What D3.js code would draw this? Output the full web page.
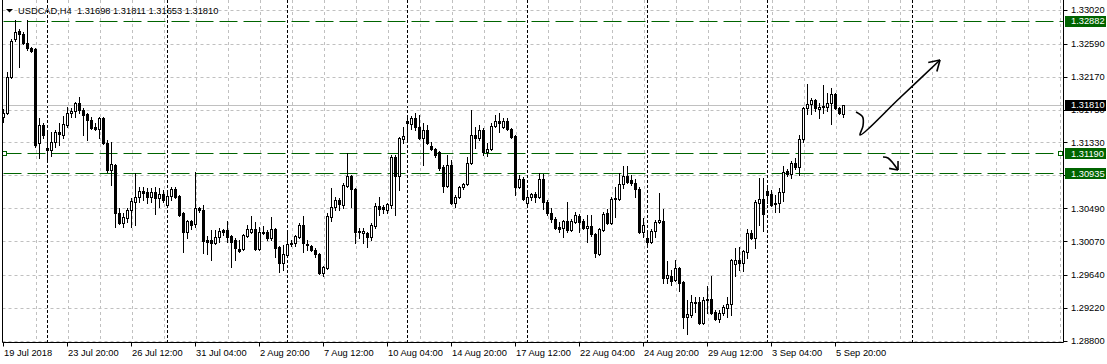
<!DOCTYPE html>
<html>
<head>
<meta charset="utf-8">
<script src="https://cdn.jsdelivr.net/npm/d3@7"></script>
<style>
  html, body { margin: 0; padding: 0; background: #fff; }
  svg { display: block; font-family: "Liberation Sans", Arial, sans-serif; font-size: 9.3px; }
</style>
</head>
<body>
<svg id="chart" width="1107" height="364"></svg>
<script>
// USDCAD H4, one bar per slot, first bar 19 Jul 2018 04:00
// [open, high, low, close]
var ohlc = [
  [1.31655,1.31757,1.31592,1.31706],[1.31706,1.32230,1.31693,1.32166],[1.32166,1.32650,1.32153,1.32625],[1.32650,1.32893,1.32625,1.32740],
  [1.32752,1.32778,1.32293,1.32714],[1.32714,1.32740,1.32587,1.32600],[1.32600,1.32893,1.32510,1.32536],[1.32536,1.32549,1.32485,1.32497],
  [1.32523,1.32536,1.31273,1.31298],[1.31324,1.31642,1.31132,1.31553],[1.31553,1.31579,1.31387,1.31425],
  // week of 23 Jul
  [1.31260,1.31451,1.31106,1.31234],[1.31234,1.31463,1.31157,1.31336],[1.31336,1.31489,1.31273,1.31463],[1.31463,1.31579,1.31298,1.31438],
  [1.31425,1.31667,1.31387,1.31566],[1.31553,1.31783,1.31528,1.31706],[1.31706,1.31770,1.31655,1.31731],[1.31731,1.31847,1.31655,1.31834],
  [1.31834,1.31911,1.31706,1.31744],[1.31744,1.31770,1.31425,1.31680],[1.31693,1.31706,1.31362,1.31617],[1.31617,1.31655,1.31502,1.31515],
  [1.31528,1.31579,1.31489,1.31502],[1.31502,1.31655,1.31387,1.31642],[1.31642,1.31655,1.31311,1.31324],[1.31324,1.31362,1.30953,1.30979],
  [1.30979,1.31336,1.30787,1.31055],[1.31042,1.31055,1.30252,1.30430],[1.30430,1.30494,1.30290,1.30303],[1.30303,1.30430,1.30252,1.30379],
  [1.30366,1.30494,1.30316,1.30468],[1.30468,1.30622,1.30252,1.30583],[1.30571,1.30941,1.30277,1.30635],[1.30635,1.30762,1.30571,1.30711],
  [1.30711,1.30762,1.30596,1.30686],[1.30699,1.30749,1.30558,1.30635],[1.30635,1.30749,1.30571,1.30699],[1.30699,1.30762,1.30417,1.30622],
  [1.30622,1.30749,1.30507,1.30673],[1.30673,1.30724,1.30571,1.30596],
  // week of 30 Jul
  [1.30532,1.30699,1.30507,1.30647],[1.30647,1.30762,1.30596,1.30736],[1.30736,1.30762,1.30622,1.30635],[1.30647,1.30660,1.30391,1.30404],
  [1.30430,1.30443,1.29933,1.30188],[1.30188,1.30341,1.30111,1.30328],[1.30328,1.30341,1.30226,1.30277],[1.30290,1.30953,1.30252,1.30494],
  [1.30494,1.30507,1.30443,1.30468],[1.30468,1.30532,1.29920,1.30073],[1.30086,1.30136,1.29907,1.30060],[1.30086,1.30213,1.29830,1.30048],
  [1.30048,1.30213,1.30035,1.30124],[1.30124,1.30239,1.30060,1.30200],[1.30213,1.30226,1.30149,1.30188],[1.30213,1.30328,1.30060,1.30124],
  [1.30136,1.30149,1.29741,1.30060],[1.30086,1.30111,1.29830,1.29984],[1.29971,1.30086,1.29933,1.29945],[1.29971,1.30162,1.29958,1.30149],
  [1.30136,1.30277,1.30124,1.30226],[1.30188,1.30391,1.30175,1.30226],[1.30226,1.30316,1.29958,1.29971],[1.29971,1.30252,1.29958,1.30188],
  [1.30188,1.30264,1.30162,1.30175],[1.30188,1.30213,1.30086,1.30111],[1.30111,1.30379,1.30086,1.30226],[1.30226,1.30239,1.29869,1.29984],
  [1.29997,1.30009,1.29678,1.29792],[1.29792,1.30022,1.29703,1.29907],
  // week of 6 Aug
  [1.29894,1.30213,1.29869,1.30035],[1.30035,1.30086,1.30009,1.30048],[1.30048,1.30149,1.30009,1.30136],[1.30124,1.30303,1.30111,1.30277],
  [1.30277,1.30391,1.29933,1.30048],[1.30035,1.30086,1.29958,1.30022],[1.30009,1.30022,1.29945,1.29958],[1.29958,1.29984,1.29869,1.29907],
  [1.29907,1.29920,1.29652,1.29665],[1.29665,1.29753,1.29626,1.29741],[1.29728,1.30430,1.29715,1.30391],[1.30379,1.30749,1.30328,1.30507],
  [1.30507,1.30635,1.30468,1.30596],[1.30596,1.30622,1.30468,1.30545],[1.30532,1.30813,1.30494,1.30787],[1.30774,1.31196,1.30762,1.30902],
  [1.30902,1.30915,1.30507,1.30736],[1.30736,1.30749,1.30048,1.30188],[1.30200,1.30239,1.30111,1.30188],[1.30175,1.30239,1.30048,1.30200],
  [1.30175,1.30188,1.29997,1.30124],[1.30124,1.30303,1.30086,1.30277],[1.30264,1.30558,1.30239,1.30519],[1.30519,1.30635,1.30404,1.30481],
  [1.30507,1.30532,1.30430,1.30481],[1.30468,1.30558,1.30430,1.30545],[1.30532,1.31170,1.30494,1.31145],[1.31145,1.31170,1.30404,1.30902],
  [1.30902,1.31400,1.30724,1.31387],[1.31374,1.31528,1.31324,1.31412],
  // week of 13 Aug
  [1.31604,1.31642,1.31362,1.31579],[1.31566,1.31667,1.31502,1.31642],[1.31642,1.31706,1.31489,1.31528],[1.31528,1.31680,1.31374,1.31387],
  [1.31387,1.31579,1.31042,1.31489],[1.31489,1.31553,1.31311,1.31324],[1.31285,1.31336,1.31234,1.31247],[1.31247,1.31260,1.31145,1.31170],
  [1.31208,1.31221,1.30979,1.31004],[1.31017,1.31042,1.30699,1.30774],[1.30774,1.31170,1.30762,1.31042],[1.31042,1.31106,1.30545,1.30558],
  [1.30558,1.30660,1.30507,1.30635],[1.30635,1.30774,1.30622,1.30762],[1.30762,1.30813,1.30736,1.30800],[1.30800,1.31145,1.30787,1.31068],
  [1.31068,1.31744,1.31055,1.31425],[1.31425,1.31528,1.31260,1.31387],[1.31387,1.31553,1.31362,1.31489],[1.31489,1.31515,1.31170,1.31208],
  [1.31208,1.31324,1.31157,1.31247],[1.31247,1.31579,1.31234,1.31540],[1.31540,1.31680,1.31528,1.31604],[1.31604,1.31706,1.31463,1.31579],
  [1.31528,1.31642,1.31515,1.31604],[1.31604,1.31642,1.31489,1.31502],[1.31502,1.31515,1.31387,1.31400],[1.31412,1.31425,1.30660,1.30762],
  [1.30762,1.30915,1.30749,1.30864],[1.30864,1.30890,1.30596,1.30609],
  // week of 20 Aug
  [1.30558,1.30699,1.30519,1.30635],[1.30635,1.30686,1.30596,1.30673],[1.30673,1.30699,1.30571,1.30635],[1.30635,1.30941,1.30622,1.30864],
  [1.30864,1.30928,1.30481,1.30571],[1.30571,1.30596,1.30404,1.30430],[1.30430,1.30494,1.30316,1.30353],[1.30353,1.30379,1.30226,1.30239],
  [1.30252,1.30316,1.30188,1.30226],[1.30239,1.30341,1.30124,1.30328],[1.30328,1.30571,1.30188,1.30213],[1.30213,1.30353,1.30200,1.30328],
  [1.30316,1.30443,1.30303,1.30404],[1.30391,1.30417,1.30188,1.30316],[1.30328,1.30353,1.30226,1.30239],[1.30239,1.30404,1.30060,1.30264],
  [1.30264,1.30404,1.30136,1.30162],[1.30162,1.30175,1.29869,1.29920],[1.29907,1.30239,1.29894,1.30226],[1.30213,1.30443,1.30200,1.30417],
  [1.30430,1.30481,1.30290,1.30303],[1.30303,1.30635,1.30290,1.30609],[1.30609,1.30762,1.30379,1.30622],[1.30609,1.30941,1.30596,1.30800],
  [1.30800,1.31029,1.30749,1.30902],[1.30902,1.31029,1.30813,1.30826],[1.30851,1.30915,1.30787,1.30813],[1.30813,1.30864,1.30635,1.30736],
  [1.30736,1.30762,1.30175,1.30188],[1.30188,1.30366,1.30124,1.30277],
  // week of 27 Aug
  [1.30111,1.30213,1.30022,1.30060],[1.30060,1.30226,1.30048,1.30200],[1.30200,1.30341,1.30124,1.30316],[1.30316,1.30686,1.30303,1.30341],
  [1.30328,1.30481,1.29537,1.29601],[1.29601,1.29817,1.29537,1.29639],[1.29626,1.29703,1.29511,1.29562],[1.29575,1.29830,1.29562,1.29728],
  [1.29728,1.29741,1.29435,1.29537],[1.29550,1.29562,1.28963,1.29103],[1.29103,1.29320,1.28886,1.29141],[1.29128,1.29384,1.29103,1.29295],
  [1.29282,1.29359,1.29167,1.29295],[1.29295,1.29359,1.29014,1.29027],[1.29027,1.29359,1.29014,1.29320],[1.29320,1.29498,1.29154,1.29333],
  [1.29333,1.29626,1.29141,1.29154],[1.29167,1.29192,1.29065,1.29077],[1.29077,1.29192,1.29040,1.29154],[1.29154,1.29256,1.29128,1.29231],
  [1.29218,1.29359,1.29103,1.29269],[1.29269,1.29843,1.29128,1.29830],[1.29779,1.29984,1.29626,1.29830],[1.29830,1.29997,1.29703,1.29792],
  [1.29792,1.29958,1.29690,1.29945],[1.29933,1.30226,1.29856,1.30175],[1.30175,1.30213,1.30098,1.30111],[1.30111,1.30596,1.29984,1.30571],
  [1.30558,1.30877,1.30277,1.30609],[1.30609,1.30877,1.30200,1.30417],
  // week of 3 Sep
  [1.30711,1.30749,1.30558,1.30660],[1.30673,1.30724,1.30519,1.30532],[1.30558,1.30660,1.30443,1.30545],[1.30558,1.30749,1.30443,1.30699],
  [1.30699,1.31029,1.30583,1.30953],[1.30966,1.30991,1.30902,1.30928],[1.30928,1.31093,1.30877,1.31068],[1.31068,1.31132,1.30991,1.31017],
  [1.31017,1.31425,1.30915,1.31374],[1.31374,1.31783,1.31336,1.31770],[1.31770,1.32076,1.31693,1.31821],[1.31821,1.31898,1.31693,1.31872],
  [1.31872,1.31885,1.31731,1.31770],[1.31757,1.31834,1.31642,1.31783],[1.31795,1.32063,1.31706,1.31783],[1.31783,1.31962,1.31731,1.31834],
  [1.31834,1.32025,1.31566,1.31949],[1.31949,1.31962,1.31757,1.31770],[1.31770,1.31783,1.31693,1.31706],[1.31698,1.31811,1.31653,1.31810]
];

var priceTicks = [1.33020, 1.32590, 1.32170, 1.31750, 1.31330, 1.30910, 1.30490, 1.30070, 1.29640, 1.29220, 1.28800];

// [bar slot, label]
var timeLabels = [
  [0, "19 Jul 2018"], [16, "23 Jul 20:00"], [32, "26 Jul 12:00"], [48, "31 Jul 04:00"],
  [64, "2 Aug 20:00"], [80, "7 Aug 12:00"], [96, "10 Aug 04:00"], [112, "14 Aug 20:00"],
  [128, "17 Aug 12:00"], [144, "22 Aug 04:00"], [160, "24 Aug 20:00"], [176, "29 Aug 12:00"],
  [192, "3 Sep 04:00"], [208, "5 Sep 20:00"]
];

// week starts (bar slot); last one lies in the empty future area
var weekStarts = [11, 41, 71, 101, 131, 161, 191, 227.25];

var levels = [1.32882, 1.31190, 1.30935];
var bidPrice = 1.31810;
var title = "USDCAD,H4  1.31698 1.31811 1.31653 1.31810";

// hand drawn arrows, [bar slot, price]
var arrowUp = [[213.25, 1.31719], [214.9, 1.31655], [215.0, 1.31540], [214.25, 1.31425], [224.25, 1.31900], [234.25, 1.32382]];
var arrowDown = [[220, 1.31145], [221.25, 1.31132], [223.75, 1.30979]];

var left = 2.5, right = 1063.5, bottom = 342.5;
var green = "#006400";

var x = d3.scaleLinear().domain([0, 210]).range([3, 843]);
var y = d3.scaleLinear().domain([1.28800, 1.33020]).range([340.7, 10]);
var crisp = function(v) { return Math.round(v) + 0.5; };

var svg = d3.select("#chart");

// grid
var grid = svg.append("g").attr("stroke", "#c0c0c0").attr("stroke-dasharray", "3,3");
grid.selectAll(".gh").data(priceTicks).enter().append("line")
  .attr("x1", left).attr("x2", right)
  .attr("y1", function(d) { return crisp(y(d)); })
  .attr("y2", function(d) { return crisp(y(d)); });
grid.selectAll(".gv").data(d3.range(8.25, 265, 8)).enter().append("line")
  .attr("x1", function(d) { return crisp(x(d)); })
  .attr("x2", function(d) { return crisp(x(d)); })
  .attr("y1", 0).attr("y2", bottom);

// period separators
svg.append("g").attr("stroke", "#000").attr("stroke-dasharray", "3,2")
  .selectAll("line").data(weekStarts).enter().append("line")
  .attr("x1", function(d) { return crisp(x(d)); })
  .attr("x2", function(d) { return crisp(x(d)); })
  .attr("y1", 0).attr("y2", bottom);

// bid line
svg.append("line")
  .attr("x1", left).attr("x2", right)
  .attr("y1", crisp(y(bidPrice))).attr("y2", crisp(y(bidPrice)))
  .attr("stroke", "#c0c0c0");

// horizontal levels
svg.append("g").attr("stroke", green).attr("stroke-dasharray", "18,6")
  .selectAll("line").data(levels).enter().append("line")
  .attr("x1", left + 1).attr("x2", right)
  .attr("y1", function(d) { return crisp(y(d)); })
  .attr("y2", function(d) { return crisp(y(d)); });

// small markers on the selected level
[5, 1061].forEach(function(cx) {
  svg.append("rect")
    .attr("x", cx - 2.5).attr("y", crisp(y(levels[1])) - 2)
    .attr("width", 4).attr("height", 4)
    .attr("fill", "#fff").attr("stroke", green);
});

// candles
var candles = svg.append("g");
ohlc.forEach(function(d, i) {
  var o = d[0], h = d[1], l = d[2], c = d[3];
  var cx = Math.round(x(i));
  var top = Math.round(y(Math.max(o, c))), bot = Math.round(y(Math.min(o, c)));
  candles.append("line")
    .attr("x1", cx + 0.5).attr("x2", cx + 0.5)
    .attr("y1", Math.round(y(Math.max(h, o, c)))).attr("y2", Math.round(y(Math.min(l, o, c))) + 1)
    .attr("stroke", "#000");
  if (bot - top < 1) {
    candles.append("line")
      .attr("x1", cx - 1).attr("x2", cx + 2)
      .attr("y1", top + 0.5).attr("y2", top + 0.5)
      .attr("stroke", "#000");
  } else if (c > o) {
    candles.append("rect")
      .attr("x", cx - 0.5).attr("y", top + 0.5)
      .attr("width", 2).attr("height", bot - top)
      .attr("fill", "#fff").attr("stroke", "#000");
  } else {
    candles.append("rect")
      .attr("x", cx - 1).attr("y", top)
      .attr("width", 3).attr("height", bot - top + 1)
      .attr("fill", "#000");
  }
});

// arrows
function drawArrow(pts, len, ang) {
  var p = pts.map(function(d) { return [x(d[0]), y(d[1])]; });
  svg.append("path")
    .attr("d", d3.line().curve(d3.curveCatmullRom.alpha(0.5))(p))
    .attr("fill", "none").attr("stroke", "#000").attr("stroke-width", 1.6);
  var tip = p[p.length - 1], prev = p[p.length - 2];
  var a = Math.atan2(prev[1] - tip[1], prev[0] - tip[0]);
  [-ang, ang].forEach(function(s) {
    svg.append("line")
      .attr("x1", tip[0]).attr("y1", tip[1])
      .attr("x2", tip[0] + len * Math.cos(a + s)).attr("y2", tip[1] + len * Math.sin(a + s))
      .attr("stroke", "#000").attr("stroke-width", 1.6);
  });
}
drawArrow(arrowUp, 12, 0.55);
drawArrow(arrowDown, 9, 0.7);

// frame
svg.append("path")
  .attr("d", "M" + left + ",0V" + bottom + "H" + right + "V0")
  .attr("fill", "none").attr("stroke", "#000");

// time axis
var tAxis = svg.append("g");
tAxis.selectAll("line").data(timeLabels).enter().append("line")
  .attr("x1", function(d) { return crisp(x(d[0])); })
  .attr("x2", function(d) { return crisp(x(d[0])); })
  .attr("y1", bottom).attr("y2", bottom + 4)
  .attr("stroke", "#000");
tAxis.selectAll("text").data(timeLabels).enter().append("text")
  .attr("x", function(d) { return x(d[0]) + 1; })
  .attr("y", 356)
  .attr("fill", "#000")
  .text(function(d) { return d[1]; });

// price axis
var pAxis = svg.append("g");
pAxis.selectAll("line").data(priceTicks).enter().append("line")
  .attr("x1", right).attr("x2", right + 4)
  .attr("y1", function(d) { return crisp(y(d)); })
  .attr("y2", function(d) { return crisp(y(d)); })
  .attr("stroke", "#000");
pAxis.selectAll("text").data(priceTicks).enter().append("text")
  .attr("x", 1071)
  .attr("y", function(d) { return y(d) + 3.4; })
  .attr("fill", "#000")
  .text(function(d) { return d.toFixed(5); });

// price boxes
var boxes = levels.map(function(p) { return { p: p, fill: green }; });
boxes.push({ p: bidPrice, fill: "#000" });
var bx = svg.append("g").selectAll("g").data(boxes).enter().append("g");
bx.append("rect")
  .attr("x", 1065).attr("y", function(d) { return Math.round(y(d.p)) - 5; })
  .attr("width", 41).attr("height", 11)
  .attr("fill", function(d) { return d.fill; });
bx.append("text")
  .attr("x", 1071).attr("y", function(d) { return y(d.p) + 3.4; })
  .attr("fill", "#fff")
  .text(function(d) { return d.p.toFixed(5); });

// title
svg.append("path").attr("d", "M6,9H13L9.5,12.5Z").attr("fill", "#000");
svg.append("text")
  .attr("x", 18).attr("y", 14)
  .attr("fill", "#000")
  .style("white-space", "pre")
  .text(title);
</script>
</body>
</html>
